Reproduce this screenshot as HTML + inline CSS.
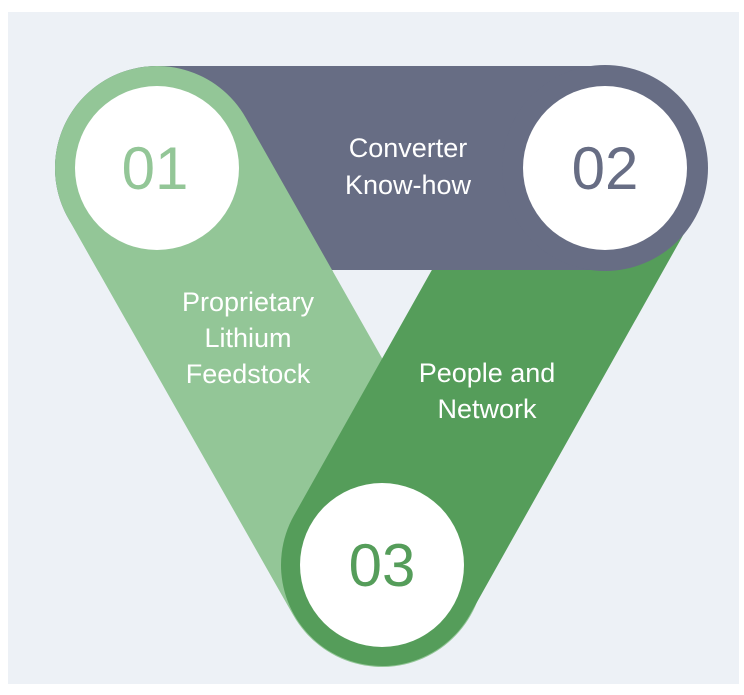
<!DOCTYPE html>
<html><head><style>
html,body{margin:0;padding:0;background:#fff;}
svg{display:block;}
text{font-family:"Liberation Sans","DejaVu Sans",sans-serif;}
</style></head><body>
<svg width="744" height="695" viewBox="0 0 744 695" xmlns="http://www.w3.org/2000/svg">
<rect x="8" y="12" width="731" height="672" fill="#edf1f6"/>
<defs><clipPath id="top"><rect x="0" y="0" width="744" height="272"/></clipPath></defs>
<line x1="157" y1="168" x2="382" y2="565" stroke="#93c697" stroke-width="204" stroke-linecap="round"/>
<line x1="605" y1="168" x2="382" y2="565" stroke="#559d5a" stroke-width="202" stroke-linecap="round"/>
<line x1="157" y1="168" x2="605" y2="168" stroke="#676d84" stroke-width="204" stroke-linecap="round"/>
<circle cx="605" cy="168" r="103" fill="#676d84"/>
<g clip-path="url(#top)">
<line x1="157" y1="168" x2="382" y2="565" stroke="#93c697" stroke-width="204" stroke-linecap="round"/>
</g>
<circle cx="157" cy="168" r="82" fill="#fff"/>
<circle cx="605" cy="168" r="82" fill="#fff"/>
<circle cx="382" cy="565" r="82" fill="#fff"/>
<text x="155" y="189" text-anchor="middle" font-size="60" fill="#93c697">01</text>
<text x="605" y="189" text-anchor="middle" font-size="60" fill="#676d84">02</text>
<text x="382" y="586" text-anchor="middle" font-size="60" fill="#559d5a">03</text>
<g fill="#fff" font-size="27" text-anchor="middle">
<text x="408" y="157">Converter</text>
<text x="408" y="194">Know-how</text>
<text x="248" y="311">Proprietary</text>
<text x="248" y="347">Lithium</text>
<text x="248" y="383">Feedstock</text>
<text x="487" y="382">People and</text>
<text x="487" y="418">Network</text>
</g>
</svg>
</body></html>
